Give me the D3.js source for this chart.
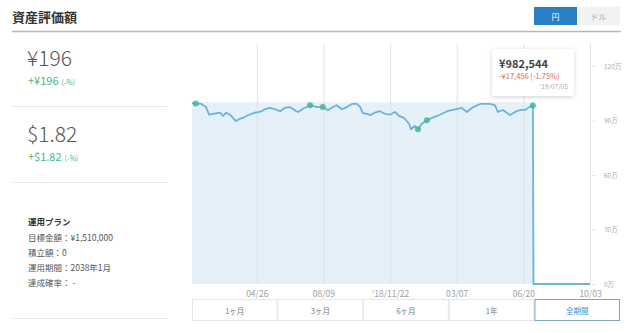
<!DOCTYPE html>
<html><head><meta charset="utf-8">
<script src="https://cdn.jsdelivr.net/npm/d3@7"></script>
<style>
body{margin:0;background:#fff;}
svg{display:block;font-family:"Noto Sans CJK JP","Noto Sans",sans-serif;}
</style></head><body>
<svg id="c" width="640" height="333"></svg>
<script>
// ---- data ----
const dates = ["2018-01-14","2018-01-20","2018-01-28","2018-02-05","2018-02-10","2018-02-16","2018-02-27","2018-03-04","2018-03-09","2018-03-16","2018-03-24","2018-03-31","2018-04-04","2018-04-12","2018-04-23","2018-05-01","2018-05-09","2018-05-17","2018-05-25","2018-06-02","2018-06-09","2018-06-17","2018-06-25","2018-06-30","2018-07-08","2018-07-19","2018-07-30","2018-08-08","2018-08-16","2018-08-24","2018-08-30","2018-09-07","2018-09-15","2018-09-23","2018-10-01","2018-10-06","2018-10-10","2018-10-17","2018-10-21","2018-10-29","2018-11-06","2018-11-14","2018-11-22","2018-11-30","2018-12-06","2018-12-14","2018-12-22","2018-12-25","2018-12-31","2019-01-05","2019-01-11","2019-01-19","2019-01-27","2019-02-04","2019-02-12","2019-02-20","2019-03-01","2019-03-15","2019-03-23","2019-04-02","2019-04-13","2019-04-28","2019-05-06","2019-05-11","2019-05-19","2019-05-30","2019-06-07","2019-06-15","2019-06-23","2019-06-27","2019-07-05","2019-07-06","2019-10-03"];
const assetValues = [996000,994000,992000,974000,932000,937000,943000,925000,943000,929000,897000,910000,914000,929000,943000,947000,962000,969000,961000,951000,969000,974000,956000,947000,965000,984000,974000,974000,956000,974000,984000,962000,974000,991000,991000,974000,941000,937000,929000,943000,951000,937000,932000,947000,925000,914000,882000,852000,870000,852000,882000,901000,914000,925000,937000,951000,958000,969000,947000,974000,991000,991000,985000,947000,958000,930000,947000,958000,958000,969000,982544,0,0];
const principalDates = ["2018-01-14","2019-07-05","2019-07-06","2019-10-03"];
const principalValues = [1000000,1000000,0,0];
const markerDates = ["2018-01-20","2018-07-19","2018-08-08","2019-01-05","2019-01-19","2019-07-05"];
const xTickDates = ["2018-04-26","2018-08-09","2018-11-22","2019-03-07","2019-06-20","2019-10-03"];
const xTickLabels = ["04/26","08/09","'18/11/22","03/07","06/20","10/03"];
const yTicks = [0,300000,600000,900000,1200000];
const rangeButtons = ["1ヶ月","3ヶ月","6ヶ月","1年","全期間"];
const planLines = ["目標金額：¥1,510,000","積立額：0","運用期間：2038年1月","達成確率： -"];

const parse = d3.timeParse("%Y-%m-%d");
const svg = d3.select("#c");

// ---- header ----
svg.append("text").attr("x",12).attr("y",22).attr("font-size",13).attr("font-weight",700).attr("fill","#333").text("資産評価額");
svg.append("line").attr("x1",12).attr("x2",621).attr("y1",31.5).attr("y2",31.5).attr("stroke","#b8b8b8").attr("stroke-width",1.5);
svg.append("rect").attr("x",534).attr("y",7).attr("width",43).attr("height",18).attr("fill","#2a80c4");
svg.append("text").attr("x",555.5).attr("y",19.5).attr("text-anchor","middle").attr("font-size",8).attr("fill","#fff").text("円");
svg.append("rect").attr("x",577).attr("y",7).attr("width",43).attr("height",18).attr("fill","#f2f2f2");
svg.append("text").attr("x",598.5).attr("y",19.5).attr("text-anchor","middle").attr("font-size",8).attr("fill","#aaa").text("ドル");

// ---- left panel ----
const lp = svg.append("g");
lp.append("text").attr("x",27).attr("y",66).attr("font-size",21).attr("font-weight",300).attr("fill","#555").text("¥196");
const g1 = lp.append("text").attr("x",28).attr("y",85).attr("font-size",11).attr("fill","#3dba86");
g1.append("tspan").text("+¥196");
g1.append("tspan").attr("font-size",7).attr("dx",3).text("(-%)");
lp.append("line").attr("x1",12).attr("x2",167).attr("y1",106.5).attr("y2",106.5).attr("stroke","#e8e8e8");
lp.append("text").attr("x",27).attr("y",142).attr("font-size",21).attr("font-weight",300).attr("fill","#555").text("$1.82");
const g2 = lp.append("text").attr("x",28).attr("y",161).attr("font-size",11).attr("fill","#3dba86");
g2.append("tspan").text("+$1.82");
g2.append("tspan").attr("font-size",7).attr("dx",3).text("(-%)");
lp.append("line").attr("x1",12).attr("x2",167).attr("y1",182.5).attr("y2",182.5).attr("stroke","#e8e8e8");
lp.append("text").attr("x",28).attr("y",225).attr("font-size",8.5).attr("font-weight",700).attr("fill","#333").text("運用プラン");
planLines.forEach((t,i)=>{
  lp.append("text").attr("x",28).attr("y",240.5+i*15).attr("font-size",8.5).attr("fill","#555").text(t);
});
lp.append("line").attr("x1",12).attr("x2",167).attr("y1",318.5).attr("y2",318.5).attr("stroke","#e8e8e8");

// ---- chart ----
const x = d3.scaleTime().domain([parse("2018-01-14"), parse("2019-10-03")]).range([192,590]);
const y = d3.scaleLinear().domain([0,1200000]).range([284,66]);

const asset = dates.map((d,i)=>({date:parse(d), v:assetValues[i]}));
const principal = principalDates.map((d,i)=>({date:parse(d), v:principalValues[i]}));

// area (principal)
svg.append("path").datum(principal)
  .attr("d", d3.area().x(d=>x(d.date)).y0(y(0)).y1(d=>y(d.v)))
  .attr("fill","#e5f0f8");

// grid lines
const xt = xTickDates.map(parse);
svg.append("g").selectAll("line").data(xt).join("line")
  .attr("x1",d=>x(d)+0.5).attr("x2",d=>x(d)+0.5).attr("y1",44).attr("y2",y(0))
  .attr("stroke","#dde3e7").attr("stroke-width",1);

// x axis
const xAxis = d3.axisBottom(x).tickValues(xt).tickFormat((d,i)=>xTickLabels[i]).tickSize(0).tickPadding(5);
const gx = svg.append("g").attr("transform",`translate(0,${y(0)+2})`).call(xAxis);
gx.select(".domain").remove();
gx.selectAll("text").attr("font-size",8.5).attr("fill","#a0a0a0").attr("font-family","Noto Sans CJK JP");

// y axis (right)
const yAxis = d3.axisRight(y).tickValues(yTicks).tickFormat(d=>(d/10000)+"万").tickSize(4).tickPadding(8);
const gy = svg.append("g").attr("transform","translate(592,0)").call(yAxis);
gy.select(".domain").remove();
gy.selectAll("line").attr("stroke","#e6e6e6");
gy.selectAll("text").attr("font-size",6.5).attr("fill","#aaa").attr("font-family","Noto Sans CJK JP");

// asset line
svg.append("path").datum(asset)
  .attr("d", d3.line().x(d=>x(d.date)).y(d=>y(d.v)))
  .attr("fill","none").attr("stroke","#6bb3d9").attr("stroke-width",1.8).attr("stroke-linejoin","round");

// markers
const mk = markerDates.map(d=>asset.find(a=>+a.date===+parse(d)));
svg.append("g").selectAll("circle").data(mk).join("circle")
  .attr("cx",d=>x(d.date)).attr("cy",d=>y(d.v)).attr("r",3)
  .attr("fill","#45b98f").attr("fill-opacity",0.85);

// tooltip
const last = asset[70];
const tg = svg.append("g");
const defs = svg.append("defs");
const f = defs.append("filter").attr("id","sh").attr("x","-20%").attr("y","-20%").attr("width","140%").attr("height","150%");
f.append("feDropShadow").attr("dx",0).attr("dy",1).attr("stdDeviation",2).attr("flood-color","#000").attr("flood-opacity",0.18);
tg.append("rect").attr("x",492).attr("y",49).attr("width",82).attr("height",47).attr("rx",2).attr("fill","#fff").attr("filter","url(#sh)");
tg.append("text").attr("x",499).attr("y",68).attr("font-size",11).attr("font-weight",700).attr("fill","#444").text("¥"+d3.format(",")(last.v));
tg.append("text").attr("x",499).attr("y",79).attr("font-size",7.5).attr("fill","#d9654f").text("-¥17,456 (-1.75%)");
tg.append("text").attr("x",568).attr("y",89).attr("text-anchor","end").attr("font-size",6.5).attr("fill","#aaa").text("'19/07/05");

// range buttons
const bx = d3.scaleBand().domain(rangeButtons).range([192,620]);
const bg = svg.append("g");
rangeButtons.forEach((b,i)=>{
  const sel = i===rangeButtons.length-1;
  bg.append("rect").attr("x",bx(b)+0.5).attr("y",299.5).attr("width",bx.bandwidth()-1).attr("height",21)
    .attr("fill","#fff").attr("stroke",sel?"#7ea6bd":"#e6e6e6").attr("stroke-width",1);
  bg.append("text").attr("x",bx(b)+bx.bandwidth()/2).attr("y",313.5).attr("text-anchor","middle")
    .attr("font-size",7.5).attr("fill",sel?"#3a8cc4":"#777").text(b);
});
</script>
</body></html>
